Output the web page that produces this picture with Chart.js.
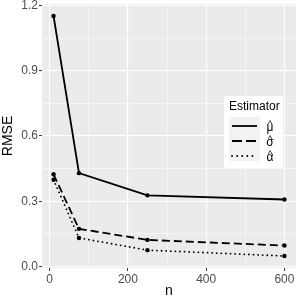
<!DOCTYPE html>
<html>
<head>
<meta charset="utf-8">
<script src="https://cdn.jsdelivr.net/npm/chart.js@4"></script>
<style>
  html, body { margin: 0; padding: 0; background: #fff; }
  #wrap { width: 300px; height: 300px; }
</style>
</head>
<body>
<div id="wrap"><canvas id="rmseChart"></canvas></div>
<script>
const nValues = [10, 75, 250, 600];
const muRmse = [1.152, 0.429, 0.327, 0.308];
const sigmaRmse = [0.424, 0.173, 0.122, 0.096];
const alphaRmse = [0.399, 0.131, 0.075, 0.048];
const seriesLabels = ['\u03BC\u0302', '\u03C3\u0302', '\u03B1\u0302'];
const xTicks = [0, 200, 400, 600];
const yTicks = [0, 0.3, 0.6, 0.9, 1.2];

const FONT = 'Liberation Sans, Arial, sans-serif';

const toPoints = (vals) => vals.map((v, i) => ({ x: nValues[i], y: v }));

// ggplot-ish panel background
const panelBg = {
    id: 'panelBg',
    beforeDraw(chart) {
        const { ctx, chartArea: a } = chart;
        ctx.save();
        ctx.fillStyle = '#EBEBEB';
        ctx.fillRect(a.left, a.top, a.right - a.left, a.bottom - a.top);
        ctx.restore();
    }
};

// legend drawn inside the panel, on the right
const insideLegend = {
    id: 'insideLegend',
    afterDraw(chart) {
        const { ctx } = chart;
        const x0 = 224, y0 = 96, w = 59, h = 72;
        ctx.save();
        ctx.fillStyle = '#fff';
        ctx.fillRect(x0, y0, w, h);
        ctx.fillStyle = '#000';
        ctx.font = '12px ' + FONT;
        ctx.textBaseline = 'middle';
        ctx.fillText('Estimator', x0 + 5, y0 + 11);
        ctx.fillStyle = '#F2F2F2';
        ctx.fillRect(x0 + 5, y0 + 21, 31, 44);
        ctx.textBaseline = 'alphabetic';
        chart.data.datasets.forEach((ds, i) => {
            const y = y0 + 30 + i * 15;
            ctx.strokeStyle = '#000';
            ctx.lineWidth = ds.borderWidth;
            ctx.lineCap = ds.borderCapStyle || 'butt';
            ctx.setLineDash(ds.legendDash || []);
            ctx.beginPath();
            ctx.moveTo(x0 + 8, y);
            ctx.lineTo(x0 + 33, y);
            ctx.stroke();
            ctx.setLineDash([]);
            // letter, with its hat set a little above
            ctx.fillStyle = '#000';
            ctx.textAlign = 'center';
            ctx.font = '12px ' + FONT;
            ctx.fillText(ds.label.charAt(0), x0 + 46, y + 4.5);
            ctx.font = '9px ' + FONT;
            ctx.fillText('^', x0 + 46, y + 0.5);
            ctx.textAlign = 'left';
        });
        ctx.restore();
    }
};

const isMajor = (v, majors) => majors.some(m => Math.abs(m - v) < 1e-6);

const lineStyle = {
    borderColor: '#000',
    backgroundColor: '#000',
    borderWidth: 1.8,
    pointRadius: 2.2,
    pointBorderWidth: 0,
    tension: 0
};

new Chart(document.getElementById('rmseChart'), {
    type: 'line',
    data: {
        datasets: [
            Object.assign({}, lineStyle, {
                label: seriesLabels[0],
                data: toPoints(muRmse)
            }),
            Object.assign({}, lineStyle, {
                label: seriesLabels[1],
                data: toPoints(sigmaRmse),
                borderDash: [8, 4],
                legendDash: [10, 4]
            }),
            Object.assign({}, lineStyle, {
                label: seriesLabels[2],
                data: toPoints(alphaRmse),
                borderDash: [0.1, 4.5],
                legendDash: [0.1, 5],
                borderCapStyle: 'round'
            })
        ]
    },
    options: {
        responsive: true,
        maintainAspectRatio: false,
        animation: false,
        layout: { padding: { top: 3, right: 4, left: 0, bottom: 0 } },
        plugins: {
            legend: { display: false },
            tooltip: { enabled: false }
        },
        scales: {
            x: {
                type: 'linear',
                min: -19.5,
                max: 629.5,
                afterBuildTicks(scale) {
                    const t = [];
                    for (let v = 0; v <= 600; v += 100) t.push({ value: v });
                    scale.ticks = t;
                },
                afterFit(scale) {
                    scale.height = 32;
                    scale.paddingLeft = 0;
                    scale.paddingRight = 0;
                },
                border: { display: false },
                grid: {
                    color: '#fff',
                    lineWidth: (c) => isMajor(c.tick.value, xTicks) ? 1.1 : 0.5,
                    tickColor: (c) => isMajor(c.tick.value, xTicks) ? '#333' : 'rgba(0,0,0,0)',
                    tickLength: 3,
                    tickWidth: 1
                },
                ticks: {
                    color: '#4D4D4D',
                    font: { family: FONT, size: 12 },
                    padding: 1,
                    maxRotation: 0,
                    autoSkip: false,
                    callback: (v) => isMajor(v, xTicks) ? String(v) : ''
                },
                title: {
                    display: true,
                    text: 'n',
                    color: '#000',
                    font: { family: FONT, size: 14 },
                    padding: { top: 0, bottom: 0 }
                }
            },
            y: {
                type: 'linear',
                min: -0.0072,
                max: 1.2072,
                afterBuildTicks(scale) {
                    const t = [];
                    for (let i = 0; i <= 8; i++) t.push({ value: +(i * 0.15).toFixed(2) });
                    scale.ticks = t;
                },
                afterFit(scale) {
                    scale.width = 42;
                    scale.paddingTop = 0;
                    scale.paddingBottom = 0;
                },
                border: { display: false },
                grid: {
                    color: '#fff',
                    lineWidth: (c) => isMajor(c.tick.value, yTicks) ? 1.1 : 0.5,
                    tickColor: (c) => isMajor(c.tick.value, yTicks) ? '#333' : 'rgba(0,0,0,0)',
                    tickLength: 3,
                    tickWidth: 1
                },
                ticks: {
                    color: '#4D4D4D',
                    font: { family: FONT, size: 12 },
                    padding: 1,
                    autoSkip: false,
                    callback: (v) => isMajor(v, yTicks) ? v.toFixed(1) : ''
                },
                title: {
                    display: true,
                    text: 'RMSE',
                    color: '#000',
                    font: { family: FONT, size: 14 },
                    padding: { top: 0, bottom: 2 }
                }
            }
        }
    },
    plugins: [panelBg, insideLegend]
});
</script>
</body>
</html>
